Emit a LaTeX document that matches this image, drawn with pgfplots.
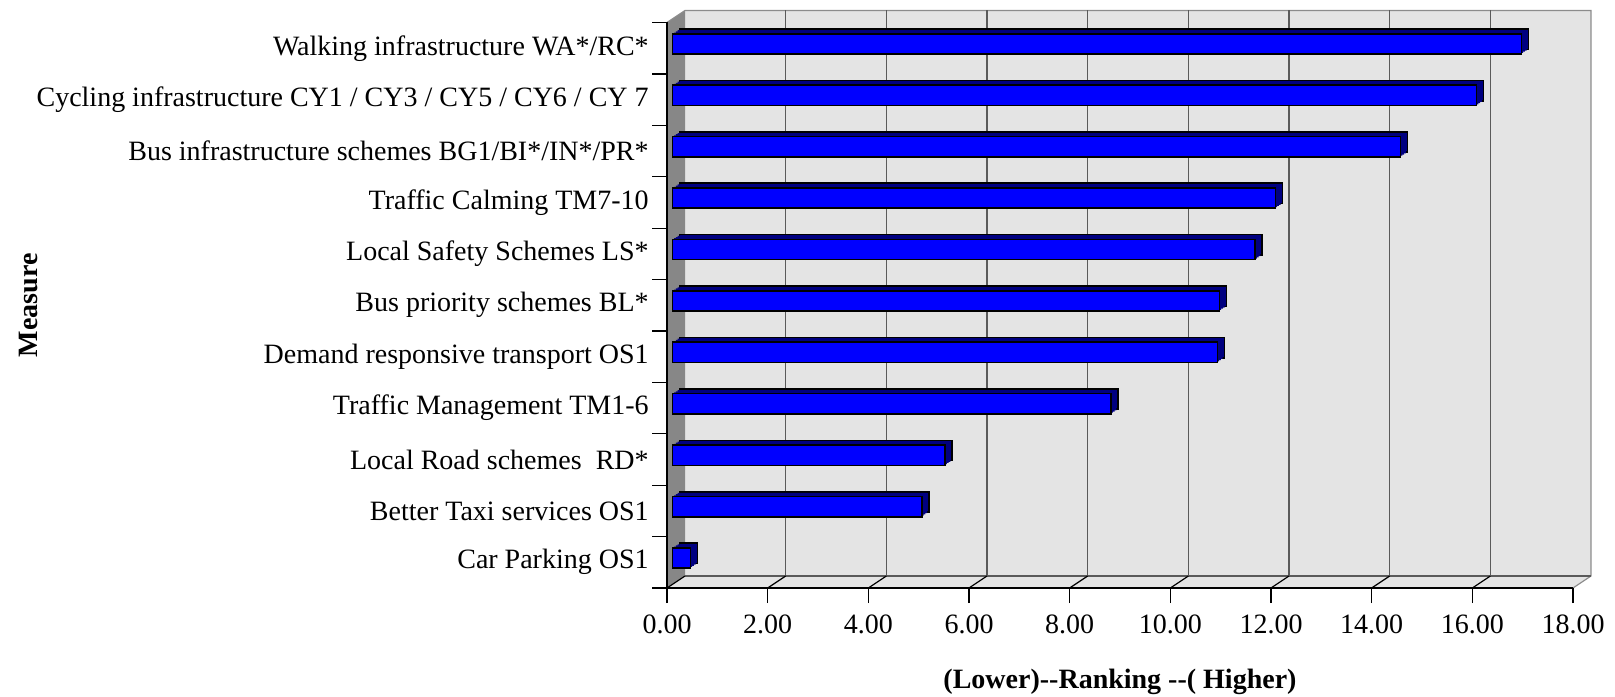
\documentclass[border=0pt]{standalone}
\usepackage{fontspec}
\setmainfont{Liberation Serif}
\usepackage{pgfplots}
\usepackage{pgfplotstable}
\pgfplotsset{compat=1.18}
\definecolor{barblue}{HTML}{0000FF}
\definecolor{barnavy}{HTML}{000080}
\definecolor{wallgray}{HTML}{E4E4E4}
\definecolor{sidegray}{HTML}{878787}
\definecolor{gridgray}{HTML}{5A5A5A}
\definecolor{edgegray}{HTML}{8C8C8C}

\pgfplotstableread{
pos value
1 0.36
2 4.96
3 5.42
4 8.72
5 10.83
6 10.87
7 11.58
8 11.98
9 14.47
10 15.98
11 16.87
}\rankdata

\begin{document}
\fontsize{14pt}{16.8pt}\selectfont
\begin{tikzpicture}
\path (0,0) rectangle (807.5pt,348pt);
\begin{axis}[
  at={(333.5pt,54pt)}, anchor=south west,
  scale only axis, width=453pt, height=282.75pt,
  xmin=0, xmax=18, ymin=0.5, ymax=11.5,
  clip=false, axis on top,
  axis x line*=bottom, axis y line*=left,
  axis line style={black, line width=0.6pt, -},
  xtick={0,2,...,18},
  xticklabel style={yshift=-1pt, /pgf/number format/.cd, fixed, fixed zerofill, precision=2, assume math mode=true},
  ytick={0.5,1.5,...,11.5},
  yticklabels={},
  extra y ticks={1,2,...,11},
  extra y tick labels={Car Parking OS1, Better Taxi services OS1, Local Road schemes\ \ RD*, Traffic Management TM1-6, Demand responsive transport OS1, Bus priority schemes BL*, Local Safety Schemes LS*, Traffic Calming TM7-10, Bus infrastructure schemes BG1/BI*/IN*/PR*, Cycling infrastructure CY1 / CY3 / CY5 / CY6 / CY 7, Walking infrastructure WA*/RC*},
  extra y tick style={major tick length=0pt, yticklabel style={xshift=-4.3pt}},
  tick align=outside,
  major tick length=7.5pt,
  tick style={black, line width=0.6pt},
  xlabel={\bfseries (Lower)-\kern0pt-Ranking -\kern0pt-( Higher)},
  ylabel={\bfseries Measure},
  every axis x label/.style={at={(axis description cs:0.5,-0.17683)}, anchor=base, inner sep=0pt},
  every axis y label/.style={at={(axis description cs:-0.6943,0.5)}, rotate=90, anchor=base, inner sep=0pt},
]
% 3D walls (decoration)
\fill[wallgray] ([xshift=9pt,yshift=6pt]rel axis cs:0,0) rectangle ([xshift=9pt,yshift=6pt]rel axis cs:1,1);
\fill[wallgray] (rel axis cs:0,0) -- (rel axis cs:1,0) -- ([xshift=9pt,yshift=6pt]rel axis cs:1,0) -- ([xshift=9pt,yshift=6pt]rel axis cs:0,0) -- cycle;
\fill[sidegray] (rel axis cs:0,0) -- (rel axis cs:0,1) -- ([xshift=9pt,yshift=6pt]rel axis cs:0,1) -- ([xshift=9pt,yshift=6pt]rel axis cs:0,0) -- cycle;
\draw[edgegray, line width=0.6pt] (rel axis cs:0,1) -- ([xshift=9pt,yshift=6pt]rel axis cs:0,1) -- ([xshift=9pt,yshift=6pt]rel axis cs:1,1) -- ([xshift=9pt,yshift=6pt]rel axis cs:1,0) -- (rel axis cs:1,0);
\draw[gridgray, line width=0.6pt] ([xshift=9pt,yshift=6pt]rel axis cs:0,0) -- ([xshift=9pt,yshift=6pt]rel axis cs:1,0);
\pgfplotsinvokeforeach{2,4,...,16}{
  \draw[gridgray, line width=0.6pt] ([xshift=9pt,yshift=6pt]axis cs:#1,0.5) -- ([xshift=9pt,yshift=6pt]axis cs:#1,11.5);
}
\pgfplotsinvokeforeach{0,2,...,16}{
  \draw[black, line width=0.6pt] (axis cs:#1,0.5) -- ([xshift=9pt,yshift=6pt]axis cs:#1,0.5);
}
% bars: back face, depth fill, front face
\addplot[xbar, bar width=10.15pt, bar shift=4.5pt, xshift=6.15pt, fill=barnavy, draw=black, line width=0.8pt] table[x=value,y=pos]{\rankdata};
\addplot[xbar, bar width=10.15pt, bar shift=3.91pt, xshift=5.28pt, fill=barnavy, draw=none] table[x=value,y=pos]{\rankdata};
\addplot[xbar, bar width=10.15pt, bar shift=3.33pt, xshift=4.4pt, fill=barnavy, draw=none] table[x=value,y=pos]{\rankdata};
\addplot[xbar, bar width=10.15pt, bar shift=2.74pt, xshift=3.53pt, fill=barnavy, draw=none] table[x=value,y=pos]{\rankdata};
\addplot[xbar, bar width=10.15pt, bar shift=2.15pt, xshift=2.65pt, fill=barblue, draw=black, line width=0.8pt] table[x=value,y=pos]{\rankdata};
\end{axis}
\end{tikzpicture}
\end{document}
